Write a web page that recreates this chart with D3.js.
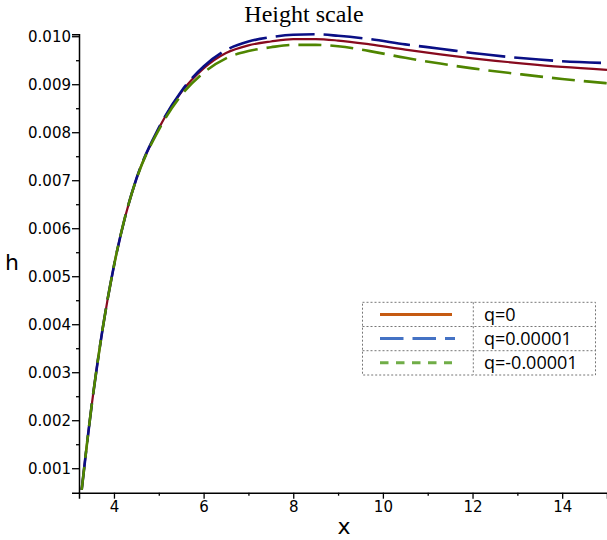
<!DOCTYPE html>
<html><head><meta charset="utf-8">
<script src="https://cdn.jsdelivr.net/npm/d3@7"></script>
<style>body{margin:0;background:#fff}svg{display:block}</style>
</head><body>
<svg id="chart" width="607" height="540"></svg>
<script>
// ---- data ----
const xValues = [3.28, 3.5, 3.75, 4.0, 4.25, 4.5, 5.0, 5.5, 6.0, 6.5, 7.0, 7.5, 8.0, 8.5, 9.0, 9.71, 10.5, 11.28, 12.0, 13.14, 14.0, 15.0];
const hQ0 =   [0.00055, 0.00229, 0.00392, 0.00522, 0.00624, 0.00703, 0.00808, 0.00883, 0.00933, 0.00965, 0.00981, 0.00989, 0.00994, 0.00994, 0.00991, 0.00983, 0.00972, 0.00962, 0.00954, 0.00943, 0.00936, 0.00930];
const hQpos = [0.00055, 0.00229, 0.00392, 0.00522, 0.00624, 0.00703, 0.00809, 0.00885, 0.00937, 0.00971, 0.00989, 0.00998, 0.01003, 0.01004, 0.01001, 0.00994, 0.00983, 0.00974, 0.00965, 0.00954, 0.00948, 0.00944];
const hQneg = [0.00055, 0.00229, 0.00392, 0.00522, 0.00624, 0.00702, 0.00805, 0.00877, 0.00924, 0.00954, 0.00969, 0.00977, 0.00982, 0.00982, 0.00979, 0.00969, 0.00955, 0.00943, 0.00933, 0.00920, 0.00911, 0.00902];
const seriesNames = ["q=0", "q=0.00001", "q=-0.00001"];
const xTicks = [4, 6, 8, 10, 12, 14];
const xMinorTicks = [5, 7, 9, 11, 13];
const yTicks = [0.001, 0.002, 0.003, 0.004, 0.005, 0.006, 0.007, 0.008, 0.009, 0.010];
const yMinorTicks = [0.0015, 0.0025, 0.0035, 0.0045, 0.0055, 0.0065, 0.0075, 0.0085, 0.0095];

// ---- layout ----
const svg = d3.select("#chart");
const x = d3.scaleLinear().domain([3.22, 15.0]).range([79, 607]);
const y = d3.scaleLinear().domain([0.00049, 0.01004]).range([492.7, 34.3]);

// title
svg.append("text").attr("x", 304).attr("y", 22).attr("text-anchor", "middle")
  .attr("font-family", "Liberation Serif, Times New Roman, serif").attr("font-size", 24)
  .text("Height scale");

// curves
const line = d3.line().x(d => x(d[0])).y(d => y(d[1])).curve(d3.curveMonotoneX);
const mk = arr => xValues.map((v, i) => [v, arr[i]]);
const curveStyles = [
  {data: hQ0, color: "#870a1e", dash: null, w: 2.2},
  {data: hQpos, color: "#0a0f85", dash: "39,9", w: 2.6},
  {data: hQneg, color: "#4f8500", dash: "23,9", w: 2.6}
];
curveStyles.forEach(s => {
  svg.append("path").attr("d", line(mk(s.data))).attr("fill", "none")
    .attr("stroke", s.color).attr("stroke-width", s.w)
    .attr("stroke-dasharray", s.dash);
});

// axes
const gx = svg.append("g").attr("transform", "translate(0,492.7)");
gx.call(d3.axisBottom(x).tickValues(xTicks).tickSize(6).tickPadding(3).tickFormat(d3.format("d")));
const gxm = svg.append("g").attr("transform", "translate(0,492.7)");
gxm.call(d3.axisBottom(x).tickValues(xMinorTicks).tickSize(3).tickFormat(""));
const gy = svg.append("g").attr("transform", "translate(79,0)");
gy.call(d3.axisLeft(y).tickValues(yTicks).tickSize(7).tickPadding(1).tickFormat(d3.format(".3f")));
const gym = svg.append("g").attr("transform", "translate(79,0)");
gym.call(d3.axisLeft(y).tickValues(yMinorTicks).tickSize(3).tickFormat(""));
[gx, gxm, gy, gym].forEach(g => {
  g.select(".domain").attr("stroke", "#000").attr("stroke-width", 1.5);
  g.selectAll(".tick line").attr("stroke", "#000").attr("stroke-width", 1.3);
  g.selectAll(".tick text").attr("font-family", "DejaVu Sans, sans-serif").attr("font-size", 15).attr("fill", "#000");
});
gym.select(".domain").remove();
gxm.select(".domain").remove();

// axis labels
svg.append("text").attr("x", 344).attr("y", 534).attr("text-anchor", "middle")
  .attr("font-family", "DejaVu Sans, sans-serif").attr("font-size", 22).text("x");
svg.append("text").attr("x", 12).attr("y", 270).attr("text-anchor", "middle")
  .attr("font-family", "DejaVu Sans, sans-serif").attr("font-size", 22).text("h");

// legend
const legColors = ["#c55a11", "#4472c4", "#70ad47"];
const legDash = [null, "23.5,9", "8.5,7.5"];
const legEnd = [452, 455, 452];
const lg = svg.append("g");
const lx0 = 362.5, lx1 = 595.5, lxm = 473.3, ly = [302.3, 326.5, 350.7, 375];
const gridStyle = sel => sel.attr("stroke", "#777").attr("stroke-width", 1).attr("stroke-dasharray", "2,2").attr("fill", "none");
lg.append("rect").attr("x", lx0).attr("y", ly[0]).attr("width", lx1 - lx0).attr("height", ly[3] - ly[0]).call(gridStyle);
[ly[1], ly[2]].forEach(v => lg.append("line").attr("x1", lx0).attr("x2", lx1).attr("y1", v).attr("y2", v).call(gridStyle));
lg.append("line").attr("x1", lxm).attr("x2", lxm).attr("y1", ly[0]).attr("y2", ly[3]).call(gridStyle);
seriesNames.forEach((name, i) => {
  const cy = (ly[i] + ly[i + 1]) / 2;
  lg.append("line").attr("x1", 380).attr("x2", legEnd[i]).attr("y1", cy).attr("y2", cy)
    .attr("stroke", legColors[i]).attr("stroke-width", 3).attr("stroke-dasharray", legDash[i]);
  lg.append("text").attr("x", 484).attr("y", cy + 6.4).attr("font-family", "Open Sans, Liberation Sans, sans-serif")
    .attr("font-size", 18).attr("fill", "#000").text(name);
});
</script>
</body></html>
